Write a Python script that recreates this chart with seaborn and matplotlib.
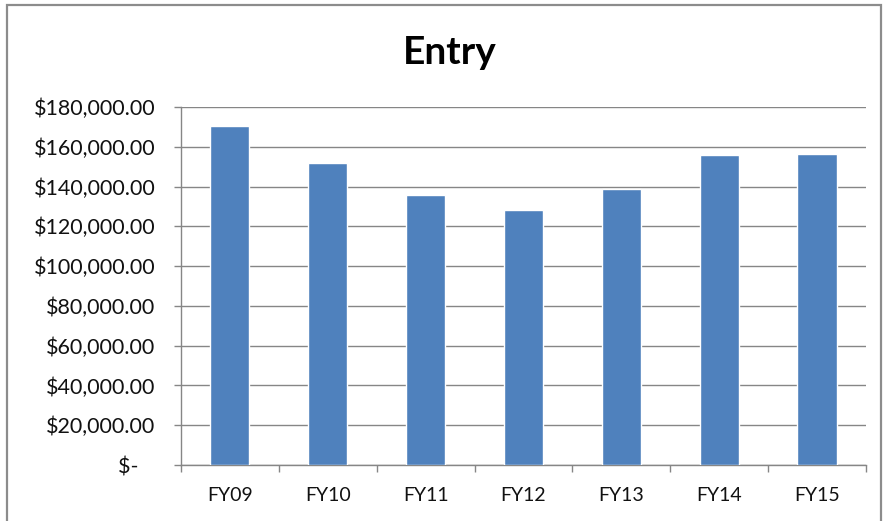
import matplotlib
matplotlib.use("Agg")
import matplotlib.pyplot as plt
from matplotlib.patches import Rectangle
from matplotlib.ticker import FixedLocator, FuncFormatter
import pandas as pd
import seaborn as sns

# Annual entry totals by fiscal year
years = ["FY09", "FY10", "FY11", "FY12", "FY13", "FY14", "FY15"]
amounts = [170500, 151800, 135900, 128200, 138600, 155800, 156500]
y_ticks = [0, 20000, 40000, 60000, 80000, 100000, 120000, 140000, 160000, 180000]

df = pd.DataFrame({"year": years, "amount": amounts})

sns.set_theme(style="white")
plt.rcParams["font.family"] = ["Lato", "DejaVu Sans"]

W, H = 883, 521
fig = plt.figure(figsize=(W / 100, H / 100), dpi=100)
ax = fig.add_axes([181 / W, (H - 465) / H, 685 / W, 358 / H])

sns.barplot(data=df, x="year", y="amount", color="#4F81BD", saturation=1,
            width=0.4, ax=ax, zorder=3)

ax.set_xlim(-0.5, len(years) - 0.5)
ax.set_ylim(0, 180000)
ax.set_xlabel("")
ax.set_ylabel("")


def money(v, pos=None):
    # accounting style: zero shown as a dash, pulled left of the digits
    if v == 0:
        return "$-   "
    return "${:,.2f}".format(v)


ax.yaxis.set_major_locator(FixedLocator(y_ticks))
ax.yaxis.set_major_formatter(FuncFormatter(money))
ax.grid(axis="y", color="#868686", linewidth=1.0, zorder=0)
ax.grid(axis="x", visible=False)

grey = "#868686"
for side in ["top", "right"]:
    ax.spines[side].set_visible(False)
for side in ["left", "bottom"]:
    ax.spines[side].set_color(grey)
    ax.spines[side].set_linewidth(1.0)

ax.tick_params(axis="y", which="major", direction="out", length=5, width=1,
               color=grey, labelsize=15.5, labelcolor="#111111", pad=13.5, left=True)
ax.tick_params(axis="x", which="major", length=0, labelsize=14,
               labelcolor="#111111", pad=16)
ax.xaxis.set_minor_locator(FixedLocator([i - 0.5 for i in range(len(years) + 1)]))
ax.tick_params(axis="x", which="minor", direction="out", length=5, width=1,
               color=grey, bottom=True)

fig.text(450 / W, 1 - 64 / H, "Entry", ha="center", va="baseline",
         fontsize=28, fontweight="bold", color="black")

# Chart-area frame
fig.patches.append(Rectangle((7 / W, -0.01), 874 / W, 1 - 5 / H + 0.01,
                             transform=fig.transFigure, fill=False,
                             edgecolor="#8c8c8c", linewidth=1.6))

fig.savefig("out.png", dpi=100)
